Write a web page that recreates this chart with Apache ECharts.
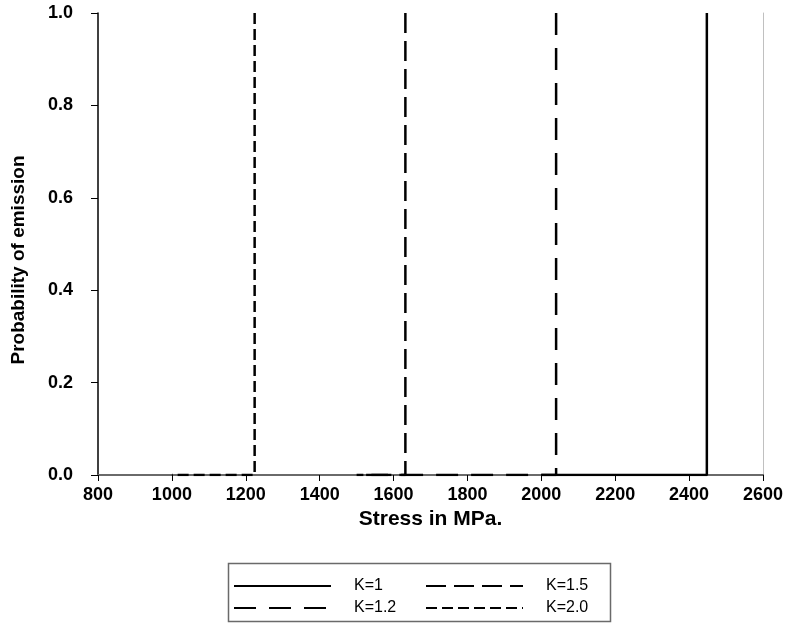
<!DOCTYPE html>
<html>
<head>
<meta charset="utf-8">
<script src="https://cdn.jsdelivr.net/npm/echarts@6/dist/echarts.min.js"></script>
<style>
  html, body { margin: 0; padding: 0; background: #fff; }
  #chart { width: 791px; height: 627px; }
</style>
</head>
<body>
<div id="chart"></div>
<script>
// series: each curve sits at 0 from its start stress, then jumps to 1
const kNames = ['K=1', 'K=1.2', 'K=1.5', 'K=2.0']
const startStress = [2000, 1500, 1500, 1000]
const jumpStress = [2448, 2040, 1632, 1224]
const dashes = ['solid', [22, 13], [20, 8], [11, 5]]

const xTicks = [800, 1000, 1200, 1400, 1600, 1800, 2000, 2200, 2400, 2600]
const yTicks = [0, 0.2, 0.4, 0.6, 0.8, 1.0]

const chart = echarts.init(document.getElementById('chart'))
const font = '"Liberation Sans", Arial, sans-serif'

// drawn from the top down so the dash pattern starts at 1.0
const curve = (i) => [
  [jumpStress[i], 1],
  [jumpStress[i], 0],
  [startStress[i], 0]
]

const legendBase = {
  orient: 'vertical',
  top: 578,
  padding: 0,
  itemGap: 6,
  itemWidth: 97,
  itemHeight: 14,
  itemStyle: { opacity: 0 },
  textStyle: { fontSize: 16, color: '#000', padding: [0, 0, 0, 18], fontFamily: font },
  selectedMode: false
}

const option = {
  animation: false,
  textStyle: { fontFamily: font },
  grid: { left: 98, right: 28, top: 13, bottom: 152, containLabel: false },
  xAxis: [
    {
      type: 'value',
      min: xTicks[0],
      max: xTicks[xTicks.length - 1],
      interval: 200,
      name: 'Stress in MPa.',
      nameLocation: 'middle',
      nameGap: 28,
      nameTextStyle: { fontSize: 21, fontWeight: 'bold', color: '#000', fontFamily: font },
      axisLine: { lineStyle: { color: '#000', width: 1.5 } },
      axisTick: { show: true, inside: false, length: 6, lineStyle: { color: '#000' } },
      axisLabel: {
        fontSize: 18, fontWeight: 'bold', color: '#000', margin: 11, fontFamily: font,
        formatter: (v) => String(v)
      },
      splitLine: { show: false }
    },
    {
      type: 'value',
      position: 'top',
      min: xTicks[0],
      max: xTicks[xTicks.length - 1],
      axisLine: { show: true, lineStyle: { color: '#6a6a6a', width: 2 } },
      axisTick: { show: false },
      axisLabel: { show: false },
      splitLine: { show: false }
    }
  ],
  yAxis: [
    {
      type: 'value',
      min: yTicks[0],
      max: yTicks[yTicks.length - 1],
      interval: 0.2,
      name: 'Probability of emission',
      nameLocation: 'middle',
      nameGap: 70,
      nameTextStyle: {
        fontSize: 19, fontWeight: 'bold', color: '#000', fontFamily: font,
        padding: [0, 32, 0, 0]
      },
      axisLine: { show: true, lineStyle: { color: '#000', width: 1.5 } },
      axisTick: { show: true, inside: false, length: 7, lineStyle: { color: '#000' } },
      axisLabel: {
        fontSize: 18, fontWeight: 'bold', color: '#000', margin: 25, fontFamily: font,
        formatter: (v) => v.toFixed(1)
      },
      splitLine: { show: false }
    },
    {
      type: 'value',
      position: 'right',
      min: 0,
      max: 1,
      axisLine: { show: true, lineStyle: { color: '#c0c0c0', width: 1 } },
      axisTick: { show: false },
      axisLabel: { show: false },
      splitLine: { show: false }
    }
  ],
  legend: [
    Object.assign({}, legendBase, { left: 233, data: [kNames[0], kNames[1]] }),
    Object.assign({}, legendBase, { left: 425, data: [kNames[2], kNames[3]] })
  ],
  graphic: [
    {
      type: 'rect',
      shape: { x: 228.5, y: 563.5, width: 382, height: 58 },
      style: { fill: 'none', stroke: '#6a6a6a', lineWidth: 1.5 },
      z: 0
    }
  ],
  series: kNames.map((name, i) => ({
    name: name,
    type: 'line',
    symbol: 'none',
    xAxisIndex: 0,
    yAxisIndex: 0,
    data: curve(i),
    lineStyle: { color: '#000', width: 2.5, type: dashes[i] },
    itemStyle: { color: '#000' },
    z: 3 + i
  }))
}

chart.setOption(option)
</script>
</body>
</html>
